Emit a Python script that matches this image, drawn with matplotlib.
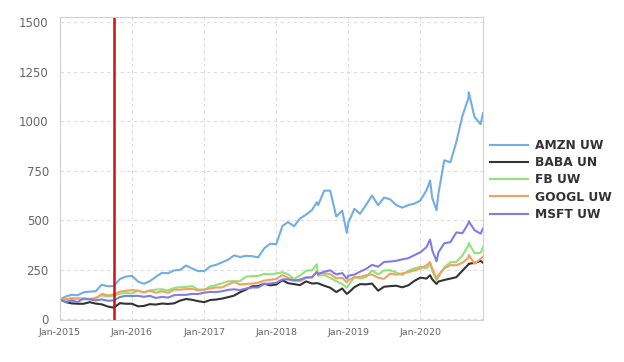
import pandas as pd
import matplotlib
matplotlib.use("Agg")
import matplotlib.pyplot as plt
import matplotlib.dates as mdates

# Dates: month starts plus a few extra days where the lines peak or dip
month_starts = pd.date_range("2015-01-01", "2020-11-01", freq="MS")
extra_days = pd.to_datetime(["2018-07-25", "2018-12-24", "2020-02-19",
                             "2020-03-23", "2020-09-02", "2020-11-13"])
dates = month_starts.union(extra_days)

tickers = ["AMZN UW", "BABA UN", "FB UW", "GOOGL UW", "MSFT UW"]
colors = ["#72ade3", "#333333", "#8fe37c", "#f4a05e", "#7d7de6"]

# rebased to 100 at the start
amzn = [100, 115, 123, 121, 136, 139, 141, 174, 166, 168, 203, 215,
        219, 190, 179, 192, 214, 234, 232, 246, 249, 271, 256, 243,
        243, 267, 274, 287, 300, 322, 314, 320, 318, 312, 358, 381,
        379, 470, 490, 469, 508, 528, 551, 590, 576, 649, 649, 518, 548, 436,
        487, 557, 532, 577, 624, 575, 614, 605, 576, 563, 576, 583,
        599, 651, 700, 611, 550, 632, 802, 792, 894, 1026, 1118, 1145, 1021, 984, 1040]
baba = [100, 86, 80, 78, 78, 86, 79, 75, 64, 58, 81, 78,
        78, 65, 67, 76, 74, 79, 77, 80, 94, 102, 98, 91,
        86, 97, 99, 104, 111, 119, 136, 150, 166, 167, 179, 171,
        175, 197, 182, 177, 172, 191, 180, 182, 181, 169, 159, 137, 155, 128,
        133, 162, 177, 176, 180, 144, 164, 167, 169, 161, 171, 193,
        210, 205, 222, 201, 178, 190, 198, 205, 212, 245, 277, 280, 284, 294, 285]
fb = [100, 97, 101, 105, 100, 101, 109, 120, 114, 118, 129, 133,
      130, 143, 136, 145, 150, 151, 145, 158, 161, 163, 167, 150,
      148, 166, 172, 181, 191, 192, 192, 215, 218, 218, 229, 226,
      231, 237, 227, 204, 220, 245, 247, 277, 219, 223, 209, 192, 178, 159,
      172, 212, 206, 212, 246, 226, 246, 247, 236, 223, 245, 256,
      266, 256, 278, 245, 195, 212, 261, 287, 289, 322, 373, 385, 333, 335, 362]
googl = [100, 101, 106, 105, 104, 103, 103, 128, 120, 125, 139, 144,
         147, 144, 135, 144, 134, 141, 133, 149, 149, 152, 153, 146,
         150, 155, 160, 160, 175, 188, 175, 178, 180, 184, 195, 199,
         203, 223, 209, 196, 192, 208, 213, 241, 232, 232, 228, 206, 209, 186,
         197, 212, 213, 222, 226, 209, 204, 230, 225, 231, 238, 246,
         256, 272, 288, 255, 205, 222, 257, 273, 272, 285, 310, 324, 280, 305, 316]
msft = [100, 86, 94, 87, 104, 100, 95, 100, 93, 95, 112, 118,
        117, 118, 113, 118, 107, 113, 109, 121, 123, 123, 128, 127,
        134, 138, 137, 141, 148, 151, 147, 155, 160, 160, 178, 180,
        184, 201, 201, 195, 200, 211, 211, 237, 227, 240, 247, 226, 233, 205,
        220, 225, 240, 254, 274, 265, 289, 291, 295, 302, 308, 323,
        338, 364, 402, 348, 292, 337, 383, 389, 438, 434, 485, 494, 449, 432, 458]

event_date = pd.Timestamp("2015-10-01")

series = [amzn, baba, fb, googl, msft]

fig = plt.figure(figsize=(6.24, 3.62), dpi=100)
ax = fig.add_axes([0.096, 0.116, 0.678, 0.837])

for name, vals, c in zip(tickers, series, colors):
    ax.plot(dates, vals, color=c, lw=1.5, label=name)

ax.axvline(event_date, color="#c81414", lw=1.8)

ax.set_xlim(dates[0], dates[-1])
ax.set_ylim(-4, 1525)
ax.set_yticks([0, 250, 500, 750, 1000, 1250, 1500])
ax.xaxis.set_major_locator(mdates.YearLocator())
ax.xaxis.set_major_formatter(mdates.DateFormatter("%b-%Y"))

ax.grid(True, color="#dddddd", ls=(0, (3, 3)), lw=0.8)
ax.set_axisbelow(True)
for s in ax.spines.values():
    s.set_color("#d0d0d0")
ax.tick_params(length=0, colors="#666666")
ax.tick_params(axis="x", labelsize=6.8, pad=6)
ax.tick_params(axis="y", labelsize=8.5, pad=8)

fig.legend(loc="center left", bbox_to_anchor=(0.777, 0.503), frameon=False,
           prop={"weight": "bold", "size": 8.8}, labelcolor="#333333",
           handlelength=3.1, labelspacing=0.35, handletextpad=0.6, borderaxespad=0)

fig.savefig("out.png", dpi=100)
